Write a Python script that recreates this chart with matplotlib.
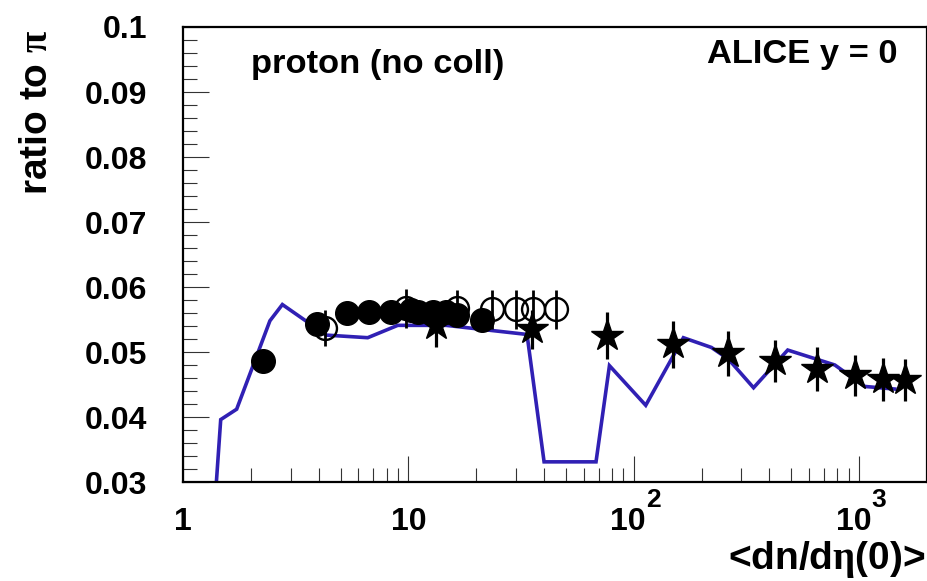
import matplotlib
matplotlib.use("Agg")
import matplotlib.pyplot as plt
import matplotlib.transforms as mtransforms
from matplotlib.ticker import FixedLocator, FixedFormatter, MultipleLocator, NullFormatter

plt.rcParams['font.family'] = ['Liberation Sans', 'DejaVu Sans']
plt.rcParams['font.weight'] = 'bold'
plt.rcParams['mathtext.fontset'] = 'custom'
plt.rcParams['mathtext.rm'] = 'Liberation Serif'
plt.rcParams['mathtext.it'] = 'Liberation Serif:italic'
plt.rcParams['mathtext.bf'] = 'Liberation Sans:bold'

# model curve (blue line)
line_x = [1.40, 1.47, 1.73, 2.0, 2.43, 2.76, 4.32, 6.6, 8.97, 14.7, 33.6, 40.0, 68.0, 78.0, 113.0,
          166.0, 221.0, 263.0, 340.0, 482.0, 780.0, 1060.0, 1440.0]
line_y = [0.0290, 0.0396, 0.0412, 0.0470, 0.0548, 0.0573, 0.0526, 0.0522, 0.0541, 0.0541, 0.0527,
          0.0331, 0.0331, 0.0479, 0.0418, 0.0522, 0.0507, 0.0489, 0.0445, 0.0503, 0.0480, 0.0447, 0.0443]

# filled circles
fc_x = [2.27, 3.95, 5.32, 6.72, 8.4, 10.3, 11.0, 12.8, 14.7, 16.5, 21.2]
fc_y = [0.0486, 0.0543, 0.0560, 0.0561, 0.0561, 0.0565, 0.0562, 0.0562, 0.0561, 0.0557, 0.0549]

# open circles
oc_x = [4.25, 9.8, 16.5, 23.5, 30.0, 35.7, 45.2]
oc_y = [0.0537, 0.0567, 0.0567, 0.0566, 0.0566, 0.0566, 0.0566]
oc_err = [0.0027, 0.0030, 0.0028, 0.0030, 0.0030, 0.0030, 0.0030]

# stars
st_x = [13.3, 35.4, 76.2, 150.0, 261.0, 424.0, 648.0, 957.0, 1277.0, 1592.0]
st_y = [0.0542, 0.0535, 0.0525, 0.0512, 0.0498, 0.0486, 0.0474, 0.0464, 0.0458, 0.0457]
st_err = [0.0035, 0.0030, 0.0036, 0.0036, 0.0035, 0.0032, 0.0034, 0.0032, 0.0033, 0.0032]

xticks = [1, 10, 100, 1000]
xticklabels = ["1", "10", "", ""]
xpow_ticks = [100, 1000]
xpow_exps = ["2", "3"]
yticks = [0.03, 0.04, 0.05, 0.06, 0.07, 0.08, 0.09, 0.1]
yticklabels = ["0.03", "0.04", "0.05", "0.06", "0.07", "0.08", "0.09", "0.1"]

W, H = 928, 581
fig = plt.figure(figsize=(W / 100, H / 100), dpi=100)
ax = fig.add_axes([183 / W, 99 / H, 744 / W, 455 / H])

ax.set_xscale('log')
ax.set_xlim(1, 2000)
ax.set_ylim(0.03, 0.1)

ax.plot(line_x, line_y, color='#3020b4', lw=2.6, zorder=2, solid_joinstyle='miter')

ax.errorbar(oc_x, oc_y, yerr=oc_err, fmt='o', ms=16.5, mfc='none', mec='black', mew=1.7,
            ecolor='black', elinewidth=2.0, capsize=0, zorder=4)
ax.errorbar(st_x, st_y, yerr=st_err, fmt='*', ms=24, mfc='black', mec='black',
            ecolor='black', elinewidth=2.3, capsize=0, zorder=5)
ax.plot(fc_x, fc_y, 'o', ms=17, color='black', zorder=3)

for s in ax.spines.values():
    s.set_linewidth(1.6)
    s.set_color('black')

ax.xaxis.set_major_locator(FixedLocator(xticks))
ax.xaxis.set_major_formatter(FixedFormatter(xticklabels))
minors = [m * d for d in [1, 10, 100, 1000] for m in range(2, 10) if m * d < 2000]
ax.xaxis.set_minor_locator(FixedLocator(minors))
ax.xaxis.set_minor_formatter(NullFormatter())

ax.yaxis.set_major_locator(FixedLocator(yticks))
ax.yaxis.set_major_formatter(FixedFormatter(yticklabels))
ax.yaxis.set_minor_locator(MultipleLocator(0.002))

ax.tick_params(which='both', direction='in', top=False, right=False, color='#333333')
ax.tick_params(which='major', length=19, width=0.8)
ax.tick_params(which='minor', length=10, width=0.8)
ax.tick_params(axis='y', which='major', labelsize=23, pad=26)
ax.tick_params(axis='x', which='major', labelsize=23, pad=18)
for lab in ax.get_xticklabels() + ax.get_yticklabels():
    lab.set_fontweight('bold')

# power-of-ten tick labels with large raised exponent (ROOT style)
trans = mtransforms.blended_transform_factory(ax.transData, ax.transAxes)
for xv, e in zip(xpow_ticks, xpow_exps):
    ax.text(xv, 0, "10", transform=mtransforms.offset_copy(trans, fig=fig, x=-4, y=-18, units='points'),
            ha='center', va='top', fontsize=23, fontweight='bold', clip_on=False)
    ax.text(xv, 0, e, transform=mtransforms.offset_copy(trans, fig=fig, x=9, y=-4, units='points'),
            ha='left', va='top', fontsize=19, fontweight='bold', clip_on=False)

fig.text(37 / W, 1 - 112 / H, r"ratio to $\mathrm{\pi}$", rotation=90, ha='center', va='center',
         fontsize=28, fontweight='bold')
fig.text(925 / W, 1 - 560 / H, r"<dn/d$\mathrm{\eta}$(0)>", ha='right', va='center',
         fontsize=28, fontweight='bold')

fig.text(251 / W, 1 - 73 / H, "proton (no coll)", ha='left', va='baseline',
         fontsize=24.8, fontweight='bold')
fig.text(707 / W, 1 - 63 / H, "ALICE y = 0", ha='left', va='baseline',
         fontsize=24.8, fontweight='bold')

fig.savefig("out.png", dpi=100)
